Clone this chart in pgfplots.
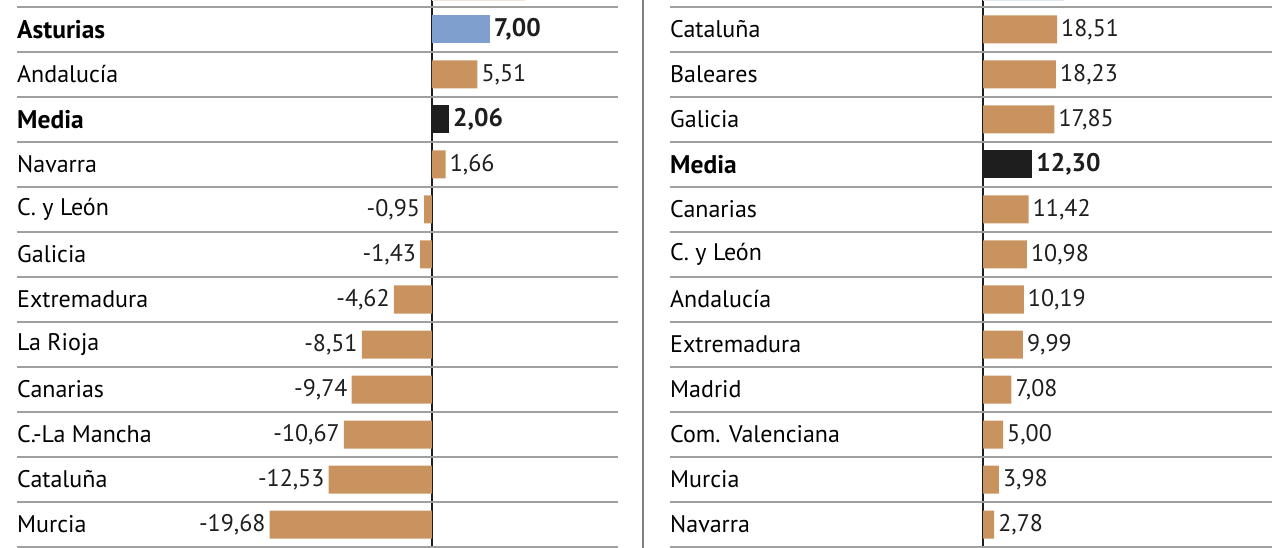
\documentclass[border=0pt]{standalone}
\usepackage{pgfplots}
\pgfplotsset{compat=1.18}
\usepackage{fontspec}
\setmainfont{PT Sans}

\definecolor{tan}{HTML}{C9935F}
\definecolor{azul}{HTML}{7F9FCF}
\definecolor{negro}{HTML}{1E1E1E}
\definecolor{linea}{HTML}{A0A0A0}

\newcommand{\fuentereg}{\fontsize{24}{28}\selectfont}
\newcommand{\fuenteneg}{\fontsize{25.5}{28}\selectfont\bfseries}

\pgfplotsset{
  panel/.style={
    scale only axis, height=548pt, anchor=south west,
    ymin=0, ymax=548, y dir=reverse,
    xbar, bar width=28, bar shift=0pt,
    axis line style={draw=none}, major tick length=0pt,
    xtick={0}, xticklabels={}, xmajorgrids,
    x grid style={negro, line width=2.5pt},
    ytick={7,52,97,142,187,232,277,322,367,412,457,502,547}, yticklabels={},
    ymajorgrids, y grid style={linea, line width=2pt},
    point meta=explicit symbolic,
  },
  pos/.style={nodes near coords,
    every node near coord/.append style={anchor=west, inner sep=0pt, xshift=4pt, text=negro}},
  neg/.style={nodes near coords,
    every node near coord/.append style={anchor=east, inner sep=0pt, xshift=-4pt, text=negro}},
  barra/.style={draw=none, fill=tan},
  destacada/.style={draw=none, fill=#1,
    every node near coord/.append style={font=\fuenteneg}},
}

\begin{document}
\begin{tikzpicture}[font=\fuentereg]
\useasboundingbox (0,0) rectangle (1280pt,548pt);

% izquierda
\begin{axis}[panel, at={(17pt,0pt)}, width=601pt, xmin=-50.3, xmax=22.55]
  \addplot[draw=none, fill=tan!25] coordinates {(11.3,-13) []};
  \addplot[barra, pos] coordinates {
    (5.51,74.5) [5,51]
    (1.66,164.5) [1,66]
  };
  \addplot[barra, neg] coordinates {
    (-0.95,209.5) [-0,95]
    (-1.43,254.5) [-1,43]
    (-4.62,299.5) [-4,62]
    (-8.51,344.5) [-8,51]
    (-9.74,389.5) [-9,74]
    (-10.67,434.5) [-10,67]
    (-12.53,479.5) [-12,53]
    (-19.68,524.5) [-19,68]
  };
  \addplot[pos, destacada=azul] coordinates {(7.00,29.5) [7,00]};
  \addplot[pos, destacada=negro] coordinates {(2.06,119.5) [2,06]};
  \node[anchor=west, inner sep=0pt, font=\fuenteneg] at (axis cs:-50.3,29.5) {Asturias};
  \node[anchor=west, inner sep=0pt] at (axis cs:-50.3,74.5) {Andalucía};
  \node[anchor=west, inner sep=0pt, font=\fuenteneg] at (axis cs:-50.3,119.5) {Media};
  \node[anchor=west, inner sep=0pt] at (axis cs:-50.3,164.5) {Navarra};
  \node[anchor=west, inner sep=0pt] at (axis cs:-50.3,209.5) {C. y León};
  \node[anchor=west, inner sep=0pt] at (axis cs:-50.3,254.5) {Galicia};
  \node[anchor=west, inner sep=0pt] at (axis cs:-50.3,299.5) {Extremadura};
  \node[anchor=west, inner sep=0pt] at (axis cs:-50.3,344.5) {La Rioja};
  \node[anchor=west, inner sep=0pt] at (axis cs:-50.3,389.5) {Canarias};
  \node[anchor=west, inner sep=0pt] at (axis cs:-50.3,434.5) {C.-La Mancha};
  \node[anchor=west, inner sep=0pt] at (axis cs:-50.3,479.5) {Cataluña};
  \node[anchor=west, inner sep=0pt] at (axis cs:-50.3,524.5) {Murcia};
\end{axis}

\draw[linea!80!black, line width=1.5pt] (643pt,0pt) -- (643pt,548pt);

% derecha
\begin{axis}[panel, at={(670pt,0pt)}, width=602pt, xmin=-78.25, xmax=72.25]
  \addplot[draw=none, fill=azul!25] coordinates {(20.2,-13) []};
  \addplot[barra, pos] coordinates {
    (18.51,29.5) [18,51]
    (18.23,74.5) [18,23]
    (17.85,119.5) [17,85]
    (11.42,209.5) [11,42]
    (10.98,254.5) [10,98]
    (10.19,299.5) [10,19]
    (9.99,344.5) [9,99]
    (7.08,389.5) [7,08]
    (5.00,434.5) [5,00]
    (3.98,479.5) [3,98]
    (2.78,524.5) [2,78]
  };
  \addplot[pos, destacada=negro] coordinates {(12.30,164.5) [12,30]};
  \node[anchor=west, inner sep=0pt] at (axis cs:-78.25,29.5) {Cataluña};
  \node[anchor=west, inner sep=0pt] at (axis cs:-78.25,74.5) {Baleares};
  \node[anchor=west, inner sep=0pt] at (axis cs:-78.25,119.5) {Galicia};
  \node[anchor=west, inner sep=0pt, font=\fuenteneg] at (axis cs:-78.25,164.5) {Media};
  \node[anchor=west, inner sep=0pt] at (axis cs:-78.25,209.5) {Canarias};
  \node[anchor=west, inner sep=0pt] at (axis cs:-78.25,254.5) {C. y León};
  \node[anchor=west, inner sep=0pt] at (axis cs:-78.25,299.5) {Andalucía};
  \node[anchor=west, inner sep=0pt] at (axis cs:-78.25,344.5) {Extremadura};
  \node[anchor=west, inner sep=0pt] at (axis cs:-78.25,389.5) {Madrid};
  \node[anchor=west, inner sep=0pt] at (axis cs:-78.25,434.5) {Com. Valenciana};
  \node[anchor=west, inner sep=0pt] at (axis cs:-78.25,479.5) {Murcia};
  \node[anchor=west, inner sep=0pt] at (axis cs:-78.25,524.5) {Navarra};
\end{axis}
\end{tikzpicture}
\end{document}
